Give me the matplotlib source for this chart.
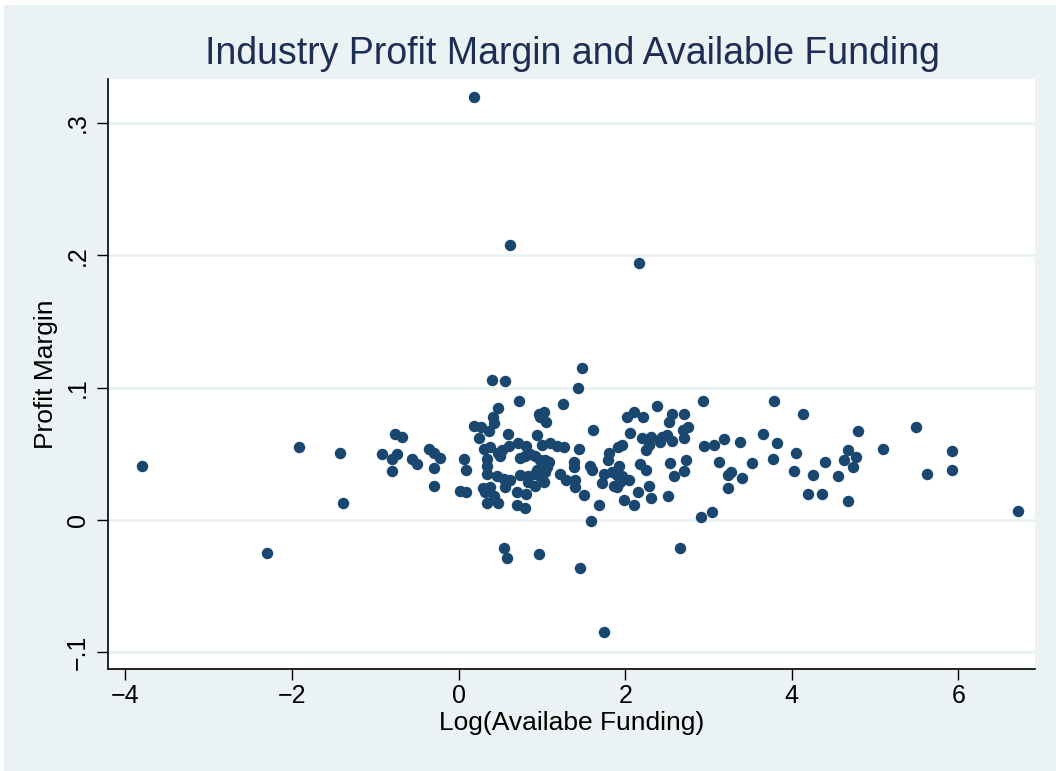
import matplotlib
matplotlib.use("Agg")
import matplotlib.pyplot as plt
from matplotlib.patches import Rectangle

# ---- data: (log funding, profit margin) ----
log_funding = [
    -3.80, -1.92, -1.42, -1.39, -2.30, -0.76, -0.68, -0.92, -0.74, -0.80,
    -0.80, -0.56, -0.50, -0.35, -0.29, -0.22, -0.29, -0.29,
    0.06, 0.09, 0.02, 0.09, 0.19, 0.27, 0.37, 0.24, 0.41, 0.43, 0.47, 0.40,
    0.56, 0.59, 0.30, 0.38, 0.34, 0.34, 0.34, 0.47, 0.52, 0.61, 0.71, 0.81,
    0.50, 0.46, 0.54, 0.62, 0.56, 0.29, 0.38, 0.32, 0.42, 0.34, 0.47, 0.70,
    0.81, 0.70, 0.80, 0.55, 0.58, 0.96, 0.19, 0.62, 0.73,
    0.94, 0.96, 1.02, 1.05, 0.98, 1.00, 1.10, 1.18, 1.26, 1.25, 0.74, 0.80,
    0.86, 0.92, 0.98, 1.04, 1.09, 1.00, 1.06, 0.94, 1.04, 0.74, 0.83, 0.92,
    0.98, 1.02, 0.92, 0.83, 1.22, 1.29, 1.40, 1.40, 1.38, 1.38,
    1.48, 1.43, 1.45, 1.61, 1.60, 1.51, 1.68, 1.59, 1.46, 1.75, 1.58, 1.93,
    1.79, 1.81, 1.91, 1.96, 2.02, 2.11, 2.21, 2.06, 2.20, 2.31, 2.28, 2.25,
    2.38, 1.74, 1.84, 1.90, 1.96, 1.94, 1.86, 1.90, 1.72, 2.04, 2.18, 2.25,
    2.28, 2.15, 2.31, 1.99, 2.10, 2.16,
    2.56, 2.53, 2.71, 2.44, 2.50, 2.42, 2.56, 2.69, 2.75, 2.71, 2.54, 2.73,
    2.59, 2.71, 2.51, 2.66, 2.93, 2.95, 3.06, 3.19, 3.12, 2.91, 3.04, 3.23,
    3.27, 3.23, 3.40, 3.38, 3.52,
    3.65, 3.79, 3.82, 3.78, 4.14, 4.05, 4.03, 4.25, 4.40, 4.19, 4.36, 4.67,
    4.63, 4.77, 4.73, 4.80, 4.55, 4.68, 5.10, 5.49, 5.62, 5.92, 5.92, 6.71,
]
profit_margin = [
    0.041, 0.055, 0.051, 0.013, -0.025, 0.065, 0.063, 0.050, 0.050, 0.046,
    0.037, 0.046, 0.042, 0.054, 0.051, 0.047, 0.039, 0.026,
    0.046, 0.038, 0.022, 0.021, 0.071, 0.070, 0.067, 0.062, 0.078, 0.073, 0.085, 0.106,
    0.105, 0.065, 0.054, 0.055, 0.046, 0.041, 0.035, 0.051, 0.053, 0.056, 0.058, 0.056,
    0.048, 0.033, 0.031, 0.030, 0.025, 0.024, 0.025, 0.021, 0.018, 0.013, 0.013, 0.021,
    0.020, 0.011, 0.009, -0.021, -0.029, -0.026, 0.3195, 0.208, 0.090,
    0.064, 0.080, 0.082, 0.074, 0.078, 0.057, 0.058, 0.056, 0.055, 0.088, 0.0465, 0.048,
    0.050, 0.048, 0.045, 0.045, 0.044, 0.040, 0.040, 0.038, 0.036, 0.034, 0.033, 0.035,
    0.033, 0.029, 0.026, 0.029, 0.035, 0.030, 0.030, 0.025, 0.044, 0.040,
    0.115, 0.0995, 0.054, 0.068, 0.038, 0.019, 0.011, -0.0005, -0.036, -0.085, 0.041, 0.041,
    0.045, 0.051, 0.055, 0.057, 0.078, 0.082, 0.078, 0.066, 0.062, 0.063, 0.057, 0.053,
    0.086, 0.035, 0.036, 0.034, 0.033, 0.029, 0.026, 0.025, 0.028, 0.030, 0.042, 0.038,
    0.026, 0.021, 0.017, 0.015, 0.011, 0.1944,
    0.080, 0.074, 0.080, 0.063, 0.064, 0.059, 0.060, 0.068, 0.070, 0.062, 0.043, 0.045,
    0.033, 0.037, 0.018, -0.021, 0.090, 0.056, 0.057, 0.061, 0.044, 0.0025, 0.006, 0.034,
    0.036, 0.024, 0.032, 0.059, 0.043,
    0.065, 0.090, 0.058, 0.046, 0.080, 0.051, 0.037, 0.034, 0.044, 0.020, 0.020, 0.053,
    0.045, 0.0475, 0.040, 0.0676, 0.033, 0.014, 0.0535, 0.070, 0.035, 0.052, 0.038, 0.007,
]

x_ticks = [-4, -2, 0, 2, 4, 6]
x_tick_labels = ["\u22124", "\u22122", "0", "2", "4", "6"]
y_ticks = [-0.1, 0, 0.1, 0.2, 0.3]
y_tick_labels = ["\u2212.1", "0", ".1", ".2", ".3"]

title = "Industry Profit Margin and Available Funding"
x_label = "Log(Availabe Funding)"
y_label = "Profit Margin"

plt.rcParams['font.family'] = ['Liberation Sans', 'DejaVu Sans']

W, H = 1056, 771
fig = plt.figure(figsize=(W / 100, H / 100), dpi=100, facecolor="white")
bg = "#EAF2F3"
fig.patches.append(Rectangle((4 / W, 0), 1, (H - 5) / H, transform=fig.transFigure,
                             facecolor=bg, edgecolor="none", zorder=-10))

ax = fig.add_axes([108 / W, 1 - 669 / H, (1035 - 108) / W, (669 - 79) / H], zorder=5)
ax.set_facecolor("white")
ax.scatter(log_funding, profit_margin, s=68, color="#1A476F", linewidths=0, zorder=3)

ax.set_xlim(-4.21, 6.92)
ax.set_ylim(-0.1126, 0.3333)

ax.set_xticks(x_ticks)
ax.set_xticklabels(x_tick_labels, fontsize=18)
ax.set_yticks(y_ticks)
ax.set_yticklabels(y_tick_labels, fontsize=18, rotation=90, va="center")

for yv in y_ticks:
    ax.axhline(yv, color=bg, lw=2, zorder=1)

for s in ["top", "right"]:
    ax.spines[s].set_visible(False)
for s in ["left", "bottom"]:
    ax.spines[s].set_color("black")
    ax.spines[s].set_linewidth(1.2)
ax.tick_params(axis="x", direction="out", length=8, width=1, color="black", pad=3)
ax.tick_params(axis="y", direction="out", length=8, width=1, color="black", pad=5)

ax.set_xlabel(x_label, fontsize=19, labelpad=2)
ax.set_ylabel(y_label, fontsize=19, labelpad=6)

fig.text(572 / W, 1 - 64 / H, title, fontsize=27, color="#1E2D53", ha="center", va="baseline")

fig.savefig("out.png", dpi=100, facecolor=fig.get_facecolor())
